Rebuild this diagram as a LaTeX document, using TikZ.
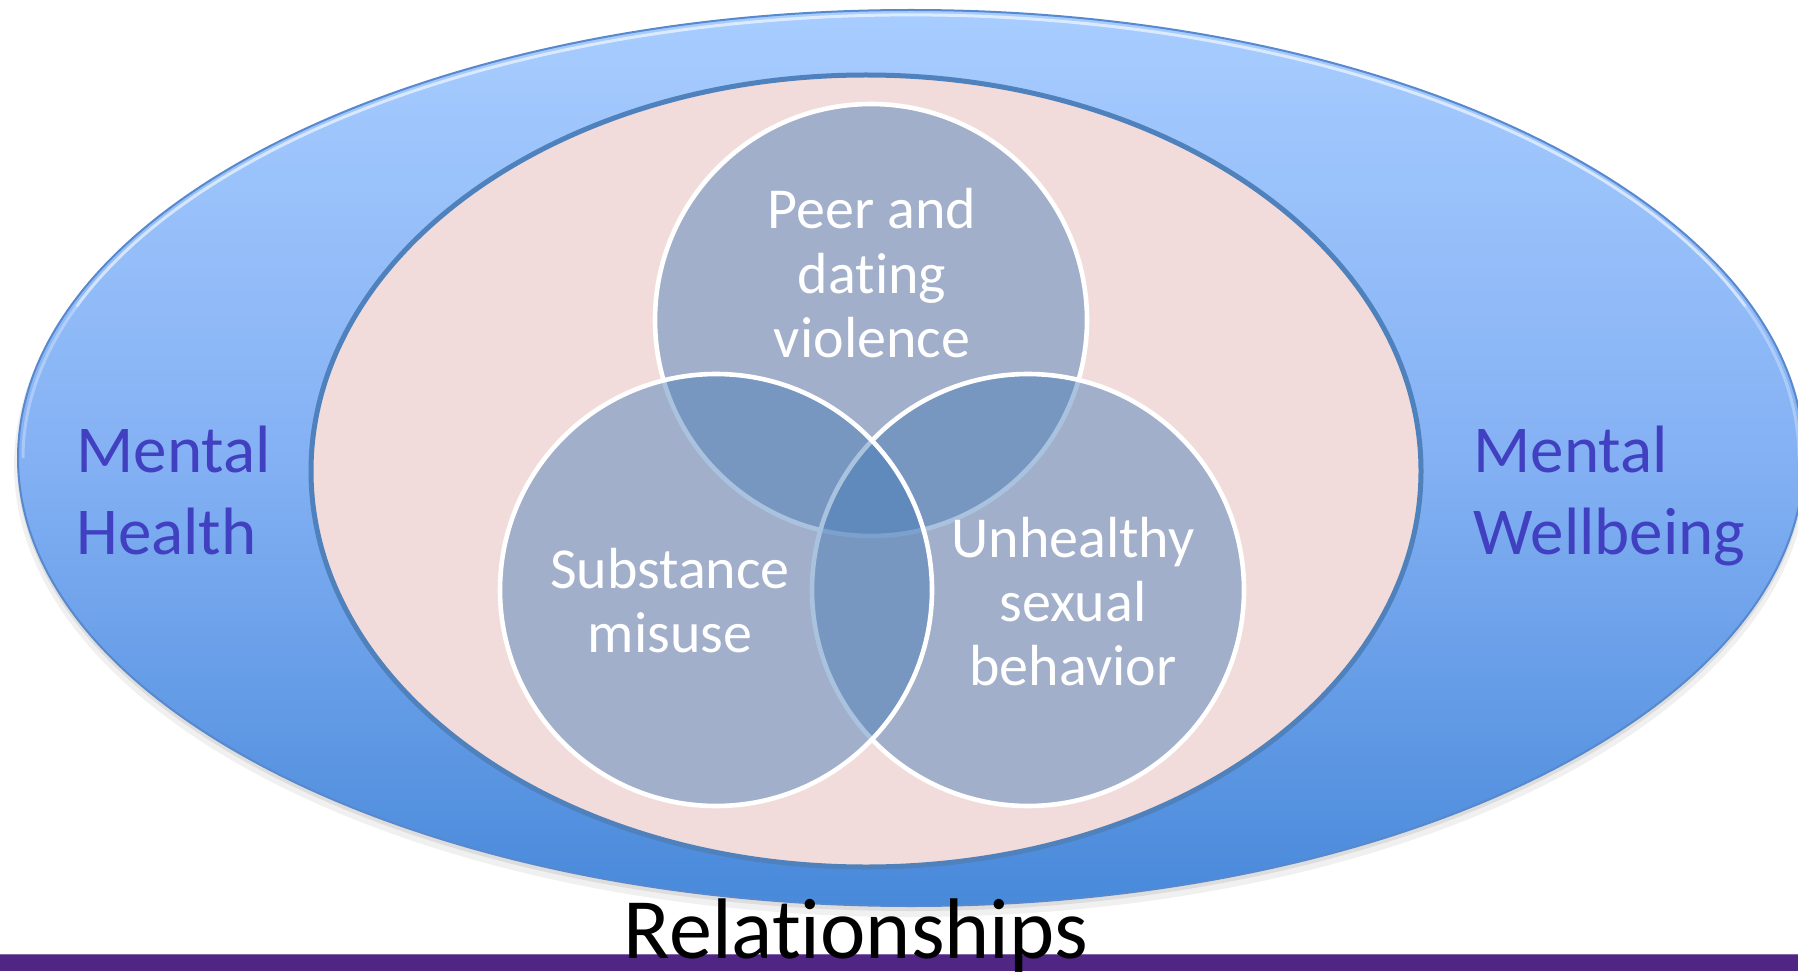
\documentclass[tikz,border=0pt]{standalone}
\usepackage{fontspec}
\setmainfont{Carlito}[Ligatures=NoCommon]
\usetikzlibrary{shapes.geometric}
\definecolor{bluetop}{RGB}{168,205,255}
\definecolor{bluemid}{RGB}{132,177,244}
\definecolor{bluebot}{RGB}{72,137,218}
\definecolor{blueedge}{RGB}{88,136,205}
\definecolor{pinkfill}{RGB}{242,220,219}
\definecolor{ringblue}{RGB}{79,129,189}
\definecolor{venn}{RGB}{69,123,184}
\definecolor{mhtext}{RGB}{64,64,192}
\definecolor{barpurple}{RGB}{80,38,132}
\tikzset{
  vennc/.style={circle, minimum size=216pt, inner sep=0pt, fill=venn, fill opacity=0.46, draw=white, draw opacity=1, line width=2.3pt},
  venntext/.style={text=white, align=center, anchor=base, inner sep=0pt, font=\fontsize{29pt}{32pt}\selectfont},
  sidetext/.style={text=mhtext, align=left, anchor=base west, inner sep=0pt, font=\fontsize{33.5pt}{41pt}\selectfont},
}
\begin{document}
\begin{tikzpicture}[x=0.5pt,y=0.5pt]
\useasboundingbox (0,0) rectangle (1798,971);
% shadow of outer ellipse
\fill[black, opacity=0.06] (911,506) ellipse [x radius=897, y radius=452];
\fill[black, opacity=0.08] (911,509) ellipse [x radius=894, y radius=449];
% outer ellipse
\path[top color=bluetop, bottom color=bluebot, middle color=bluemid, draw=blueedge, line width=1pt]
  (911,513) ellipse [x radius=893, y radius=448];
\coordinate (outer) at (911,513);
% bevel highlight near the top edge
\draw[white, opacity=0.6, line width=1.5pt] ([shift={(911,513)}] 20:888 and 443) arc [start angle=20, end angle=160, x radius=888, y radius=443];
\draw[white, opacity=0.3, line width=1.5pt] ([shift={(911,513)}] 0:888 and 443) arc [start angle=0, end angle=20, x radius=888, y radius=443];
\draw[white, opacity=0.3, line width=1.5pt] ([shift={(911,513)}] 160:888 and 443) arc [start angle=160, end angle=180, x radius=888, y radius=443];
% inner ellipse
\node[ellipse, minimum width=555pt, minimum height=396pt, inner sep=0pt, fill=pinkfill, draw=ringblue, line width=2.5pt] (inner) at (866,500) {};
% venn circles
\node[vennc] (ctop) at (871,651) {};
\node[vennc] (cright) at (1028,381) {};
\node[vennc] (cleft) at (716,381) {};
% texts (anchor at baseline of the last line)
\node[venntext] (tpeer) at (872,614) {Peer and\\dating\\violence};
\node[venntext] (tsub) at (670,319) {Substance\\misuse};
\node[venntext] (tunh) at (1073,286) {Unhealthy\\sexual\\behavior};
\node[sidetext] (tmh) at (76,417) {Mental\\Health};
\node[sidetext] (tmw) at (1473,417) {Mental\\Wellbeing};
% bottom bar
\fill[barpurple] (0,0) rectangle (1798,16);
\draw[barpurple!70!white, line width=0.6pt] (0,16.5) -- (1798,16.5);
\node[anchor=base, inner sep=0pt, font=\fontsize{43pt}{48pt}\selectfont] (trel) at (856,13) {Relationships};
\end{tikzpicture}
\end{document}
